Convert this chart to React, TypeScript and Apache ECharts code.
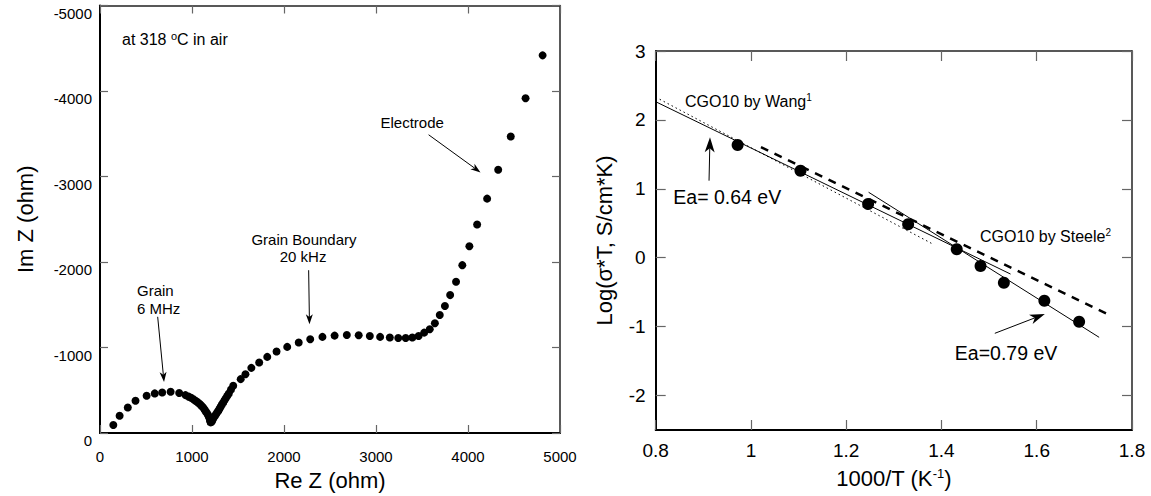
import React, { useEffect, useRef } from "react";
import * as echarts from "echarts";

// ---------- Left panel: impedance spectrum at 318 °C ----------
const reZ = [145, 213, 302, 386, 507, 595, 676, 768, 861, 929, 965, 990, 1015, 1038, 1058, 1078, 1095, 1110, 1125, 1138, 1150, 1162, 1173, 1183, 1190, 1195, 1199, 1203, 1212, 1219, 1228, 1239, 1250, 1263, 1275, 1287, 1299, 1311, 1325, 1340, 1354, 1368, 1384, 1400, 1424, 1448, 1529, 1581, 1645, 1730, 1818, 1919, 2035, 2160, 2285, 2418, 2550, 2683, 2812, 2933, 3045, 3150, 3242, 3323, 3395, 3463, 3524, 3584, 3640, 3693, 3749, 3806, 3870, 3938, 4015, 4099, 4208, 4328, 4465, 4626, 4811];
const imZ = [-93, -202, -299, -377, -435, -463, -474, -482, -467, -443, -425, -412, -395, -377, -362, -346, -328, -311, -292, -272, -252, -233, -213, -194, -175, -156, -138, -124, -130, -144, -163, -183, -202, -222, -242, -260, -284, -307, -333, -358, -383, -408, -436, -463, -508, -552, -630, -688, -762, -824, -890, -953, -1007, -1058, -1096, -1124, -1139, -1147, -1143, -1135, -1124, -1116, -1112, -1112, -1116, -1135, -1174, -1213, -1283, -1380, -1485, -1613, -1769, -1963, -2185, -2438, -2741, -3079, -3468, -3915, -4417];
const reTicks = [0, 1000, 2000, 3000, 4000, 5000];
const imTicks = [-5000, -4000, -3000, -2000, -1000, 0];

// ---------- Right panel: Arrhenius plot ----------
const invT = [0.972, 1.104, 1.246, 1.33, 1.432, 1.482, 1.531, 1.616, 1.689];
const logSigmaT = [1.636, 1.263, 0.779, 0.485, 0.122, -0.12, -0.363, -0.624, -0.929];
const fit064X = [0.8, 1.545];
const fit064Y = [2.264, -0.237];
const fit079X = [1.247, 1.731];
const fit079Y = [0.95, -1.155];
const wangX = [0.8, 1.38];
const wangY = [2.33, 0.205];
const steeleX = [1.021, 1.748];
const steeleY = [1.605, -0.817];
const invTTicks = [0.8, 1, 1.2, 1.4, 1.6, 1.8];
const logTicks = [-2, -1, 0, 1, 2, 3];

const FONT = "'Liberation Sans', Arial, Helvetica, sans-serif";

const zip = (a: number[], b: number[]) => a.map((v, i) => [v, b[i]]);

function arrow(p0: number[], p1: number[], len: number, half: number) {
  const dx = p1[0] - p0[0];
  const dy = p1[1] - p0[1];
  const L = Math.hypot(dx, dy);
  const ux = dx / L, uy = dy / L;
  const nx = -uy, ny = ux;
  const bx = p1[0] - ux * len, by = p1[1] - uy * len;
  const notch = [p1[0] - ux * len * 0.72, p1[1] - uy * len * 0.72];
  return [
    { type: "line", silent: true, shape: { x1: p0[0], y1: p0[1], x2: notch[0], y2: notch[1] }, style: { stroke: "#000", lineWidth: 1 } },
    {
      type: "polygon",
      silent: true,
      shape: { points: [p1, [bx + nx * half, by + ny * half], notch, [bx - nx * half, by - ny * half]] },
      style: { fill: "#000" },
    },
  ];
}

function txt(p: number[], text: string, size: number, align: string, rich?: any) {
  return {
    type: "text",
    silent: true,
    x: p[0],
    y: p[1],
    style: {
      text,
      fill: "#000",
      fontSize: size,
      fontFamily: FONT,
      align,
      verticalAlign: "middle",
      rich,
    },
  };
}

function makeAxes(gridIndex: number, min: number, max: number, ticks: number[], isX: boolean, opts: any) {
  const common = {
    gridIndex,
    type: "value",
    min,
    max,
    splitLine: { show: false },
    axisLine: { show: true, onZero: false, lineStyle: { color: "#000", width: 2 } },
    axisTick: { show: true, inside: true, length: opts.tickLen, customValues: ticks, lineStyle: { color: "#666", width: 1.2 } },
    axisLabel: {
      show: true,
      customValues: ticks,
      color: "#000",
      fontSize: opts.labelSize,
      fontFamily: FONT,
      margin: opts.labelMargin,
      formatter: (v: number) => String(v),
      ...(opts.labelExtra || {}),
    },
    ...(opts.extra || {}),
  };
  const mirror = {
    gridIndex,
    type: "value",
    min,
    max,
    position: isX ? "top" : "right",
    splitLine: { show: false },
    axisLine: { show: true, onZero: false, lineStyle: { color: "#222", width: 1.5 } },
    axisTick: { show: true, inside: true, length: opts.tickLen, customValues: ticks, lineStyle: { color: "#666", width: 1.2 } },
    axisLabel: { show: false },
    ...(opts.mirrorExtra || {}),
  };
  return [common, mirror];
}

export default function App() {
  const ref = useRef<HTMLDivElement>(null);

  useEffect(() => {
    if (!ref.current) return;
    const chart = echarts.init(ref.current, undefined, { renderer: "svg" });

    const leftX = makeAxes(0, 0, 5000, reTicks, true, {
      tickLen: 8,
      labelSize: 15,
      labelMargin: 16,
      extra: {
        name: "Re Z (ohm)",
        nameLocation: "middle",
        nameGap: 36,
        nameTextStyle: { fontSize: 22, fontFamily: FONT, color: "#000" },
      },
    });
    const leftY = makeAxes(0, -5000, 0, imTicks, false, {
      tickLen: 8,
      labelSize: 15,
      labelMargin: 8,
      labelExtra: { verticalAlign: "top" },
      extra: {
        inverse: true,
        name: "Im Z (ohm)",
        nameLocation: "middle",
        nameGap: 64,
        nameRotate: 90,
        nameTextStyle: { fontSize: 22, fontFamily: FONT, color: "#000" },
      },
      mirrorExtra: { inverse: true },
    });
    const rightX = makeAxes(1, 0.8, 1.8, invTTicks, true, {
      tickLen: 10,
      labelSize: 19,
      labelMargin: 11,
      extra: {
        name: "1000/T (K{sup|-1})",
        nameLocation: "middle",
        nameGap: 37,
        nameTextStyle: {
          fontSize: 22,
          fontFamily: FONT,
          color: "#000",
          rich: { sup: { fontSize: 13, fontFamily: FONT, color: "#000", verticalAlign: "top", padding: [0, 0, 10, 0] } },
        },
      },
    });
    const rightY = makeAxes(1, -2.5, 3, logTicks, false, {
      tickLen: 10,
      labelSize: 19,
      labelMargin: 10,
      extra: {
        name: "Log(σ*T, S/cm*K)",
        nameLocation: "middle",
        nameGap: 40,
        nameRotate: 90,
        nameTextStyle: { fontSize: 22, fontFamily: FONT, color: "#000" },
      },
    });

    const lineSeries = (name: string, xs: number[], ys: number[], lineStyle: any) => ({
      type: "line",
      name,
      xAxisIndex: 2,
      yAxisIndex: 2,
      data: zip(xs, ys),
      showSymbol: false,
      symbol: "none",
      silent: true,
      z: 2,
      lineStyle,
    });

    chart.setOption({
      animation: false,
      backgroundColor: "#fff",
      textStyle: { fontFamily: FONT },
      grid: [
        { left: 100, top: 5.5, width: 460, height: 428.5 },
        { left: 655.7, top: 51, width: 476.3, height: 379 },
      ],
      xAxis: [...leftX, ...rightX],
      yAxis: [...leftY, ...rightY],
      series: [
        {
          type: "scatter",
          name: "Impedance",
          xAxisIndex: 0,
          yAxisIndex: 0,
          data: zip(reZ, imZ),
          symbol: "circle",
          symbolSize: 8,
          itemStyle: { color: "#000", opacity: 1 },
          z: 3,
        },
        {
          type: "scatter",
          name: "Measured",
          xAxisIndex: 2,
          yAxisIndex: 2,
          data: zip(invT, logSigmaT),
          symbol: "circle",
          symbolSize: 12,
          itemStyle: { color: "#000", opacity: 1 },
          z: 3,
        },
        lineSeries("Fit 0.64 eV", fit064X, fit064Y, { color: "#000", width: 1, type: "solid" }),
        lineSeries("Fit 0.79 eV", fit079X, fit079Y, { color: "#000", width: 1, type: "solid" }),
        lineSeries("CGO10 by Wang", wangX, wangY, { color: "#000", width: 1, type: [1.5, 3] }),
        lineSeries("CGO10 by Steele", steeleX, steeleY, { color: "#000", width: 2.5, type: [8, 7] }),
      ],
    });

    const L = (p: number[]) => chart.convertToPixel({ seriesIndex: 0 }, p) as number[];
    const R = (p: number[]) => chart.convertToPixel({ seriesIndex: 1 }, p) as number[];
    const supRich = (size: number) => ({
      sup: { fontSize: size, fontFamily: FONT, color: "#000", verticalAlign: "top", padding: [0, 0, 8, 0] },
    });

    const graphics: any[] = [
      txt(L([239, -4597]), "at 318 {sup|o}C in air", 16, "left", supRich(11)),
      txt(L([3049, -3635]), "Electrode", 15, "left"),
      ...arrow(L([3572, -3488]), L([4136, -3048]), 10, 3.5),
      txt(L([2217, -2264]), "Grain Boundary", 15, "center"),
      txt(L([2207, -2065]), "20 kHz", 15, "center"),
      ...arrow(L([2268, -1904]), L([2277, -1272]), 10, 3.5),
      txt(L([402, -1669]), "Grain", 15, "left"),
      txt(L([402, -1453]), "6 MHz", 15, "left"),
      ...arrow(L([627, -1359]), L([696, -597]), 10, 3.5),

      txt(R([0.8615, 2.274]), "CGO10 by Wang{sup|1}", 16, "left", supRich(10)),
      ...arrow(R([0.912, 1.118]), R([0.914, 1.747]), 15, 5),
      txt(R([0.837, 0.885]), "Ea= 0.64 eV", 19.5, "left"),
      txt(R([1.481, 0.305]), "CGO10 by Steele{sup|2}", 16, "left", supRich(10)),
      ...arrow(R([1.512, -1.097]), R([1.617, -0.817]), 15, 5),
      txt(R([1.428, -1.379]), "Ea=0.79 eV", 19.5, "left"),
    ];
    chart.setOption({ graphic: graphics });

    return () => chart.dispose();
  }, []);

  return (
    <div
      ref={ref}
      style={{ position: "fixed", left: 0, top: 0, width: 1151, height: 496, background: "#fff" }}
    />
  );
}
